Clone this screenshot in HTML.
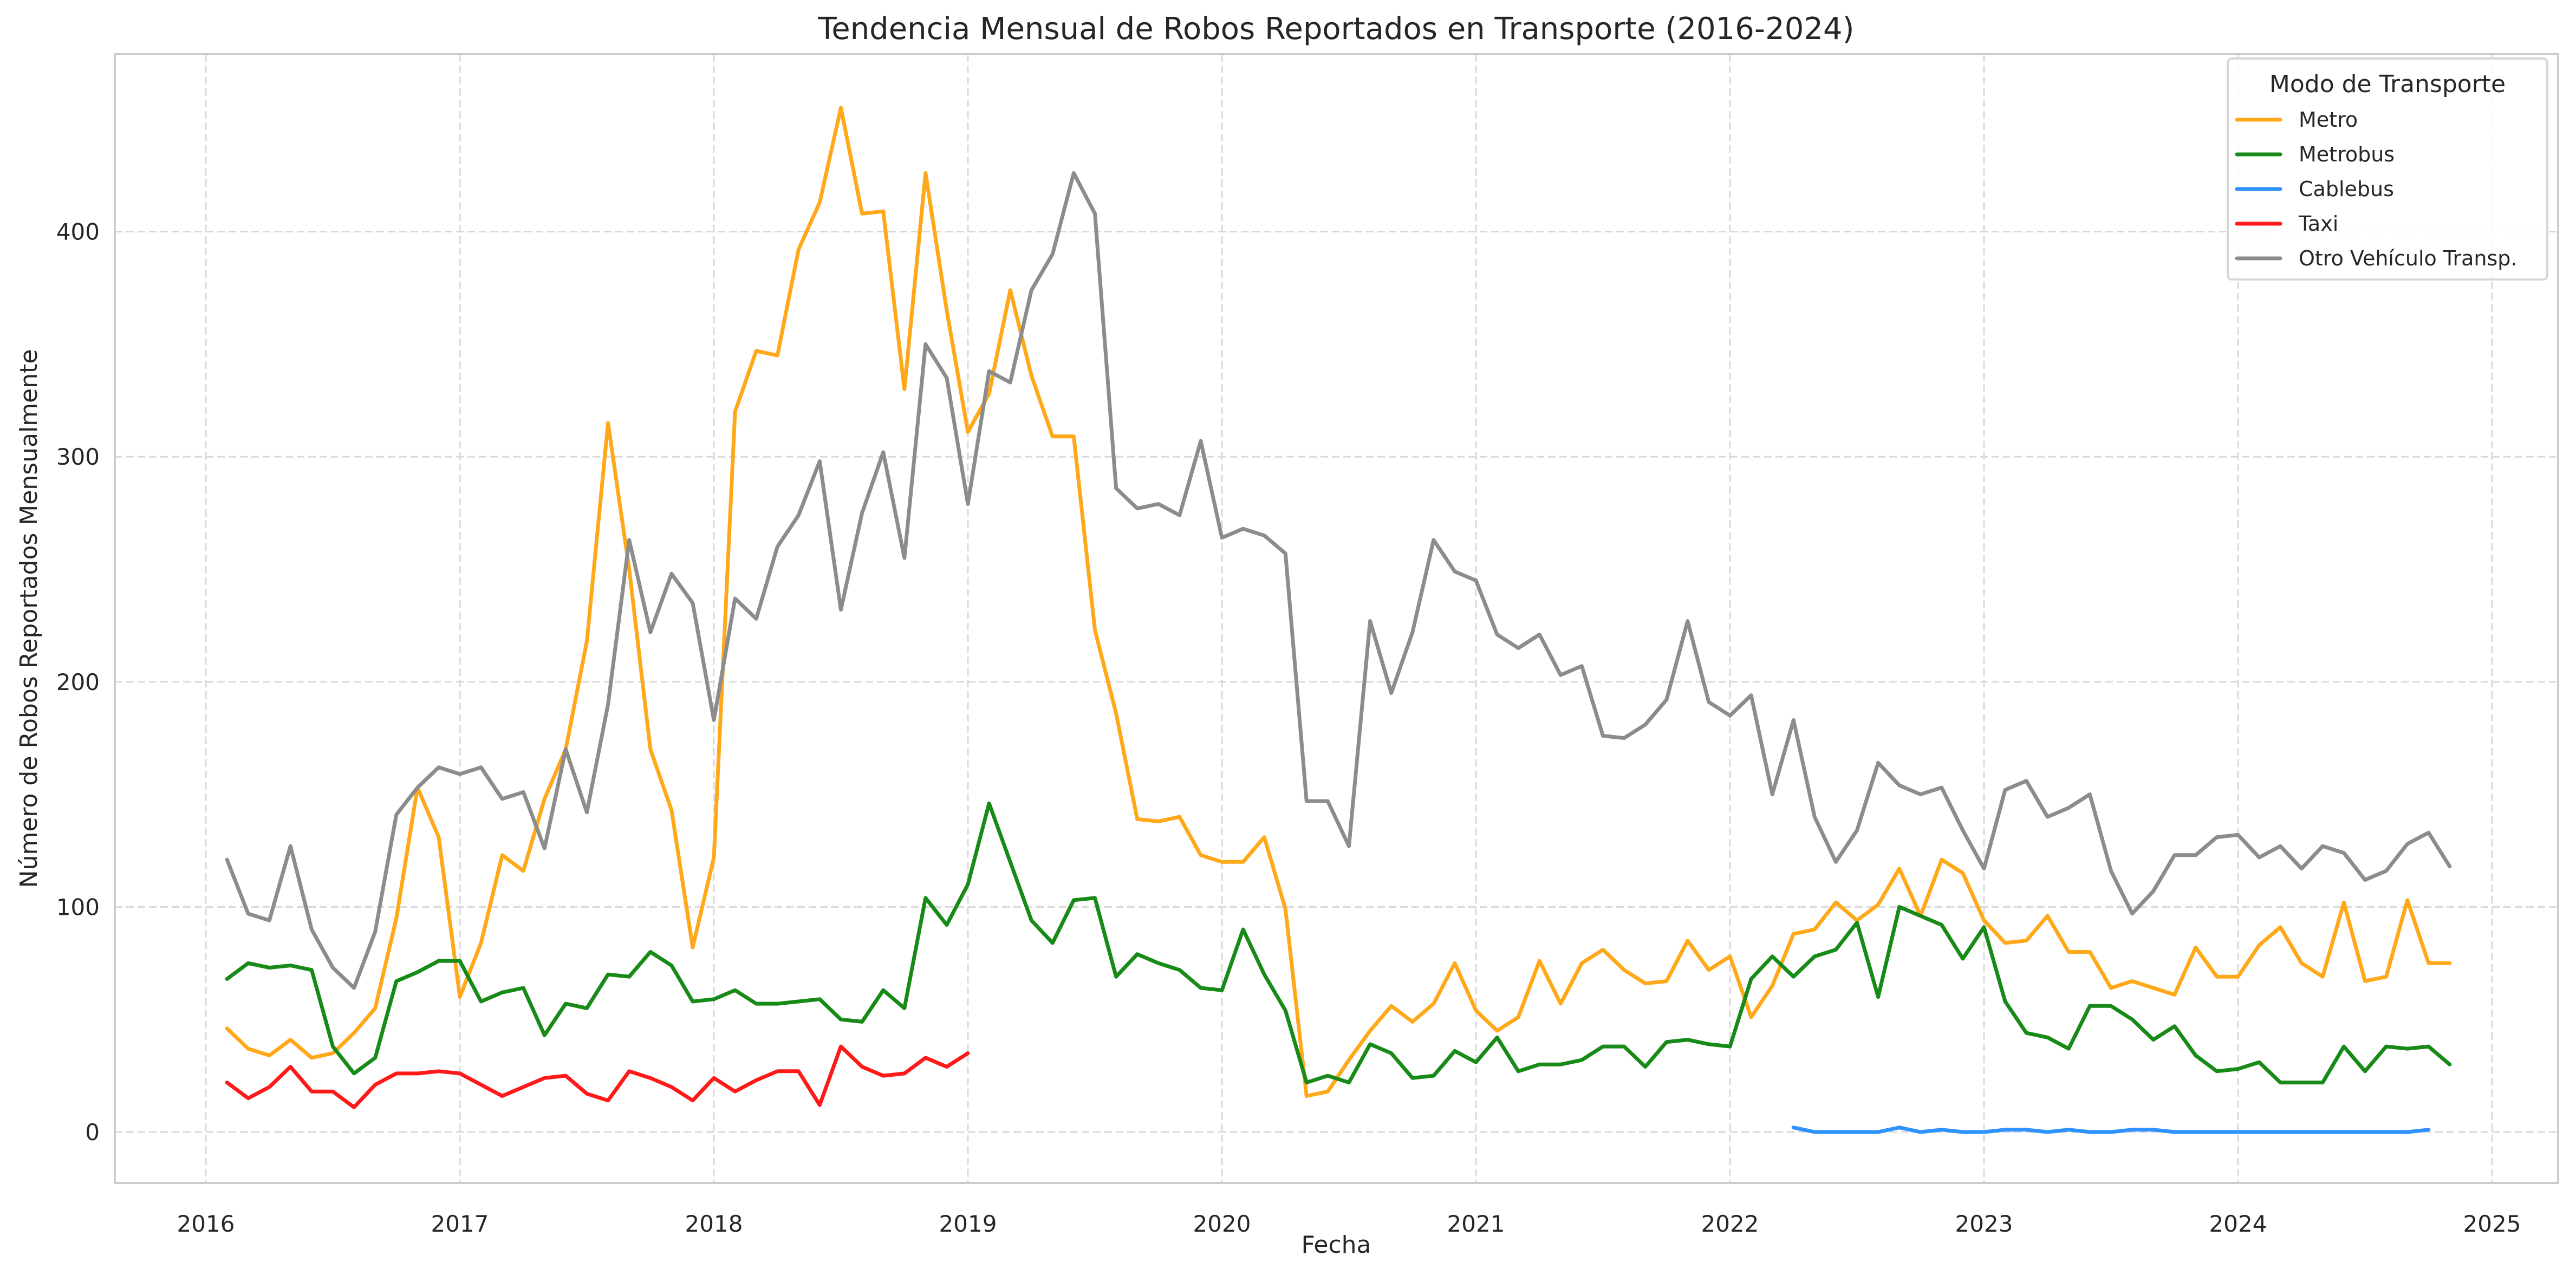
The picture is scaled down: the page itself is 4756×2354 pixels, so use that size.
<!DOCTYPE html>
<html><head><meta charset="utf-8"><style>
html,body{margin:0;padding:0;background:#fff;}
svg{display:block;font-family:"DejaVu Sans","Liberation Sans",sans-serif;}
</style></head><body>
<svg id="chart" width="4756" height="2354" viewBox="0 0 4756 2354" xmlns="http://www.w3.org/2000/svg">
<rect width="4756" height="2354" fill="#fff"/>
<g id="grid"></g>
<g id="series"></g>
<rect x="212" y="100" width="4511" height="2084" fill="none" stroke="#cccccc" stroke-width="4"/>
<g id="ticks"></g>
<text x="2467" y="72" text-anchor="middle" font-size="56" fill="#262626">Tendencia Mensual de Robos Reportados en Transporte (2016-2024)</text>
<text x="2467" y="2313" text-anchor="middle" font-size="44" fill="#262626">Fecha</text>
<text transform="translate(68,1142) rotate(-90)" text-anchor="middle" font-size="44" fill="#262626">Número de Robos Reportados Mensualmente</text>
<g id="legend">
<rect x="4113" y="108" width="590" height="408" rx="8" fill="#fff" fill-opacity="0.85" stroke="#d6d6d6" stroke-width="4"/>
<text x="4408" y="170" text-anchor="middle" font-size="44" fill="#262626">Modo de Transporte</text>
</g>
</svg>
<script>
const seriesNames = ["Metro","Metrobus","Cablebus","Taxi","Otro Vehículo Transp."];
const seriesColors = ["#ffa81a","#178a17","#2e93ff","#ff1a1a","#8c8c8c"];
const metroValues = [46,37,34,41,33,35,44,55,95,153,131,60, 84,123,116,148,170,218,315,250,170,143,82,122, 320,347,345,392,413,455,408,409,330,426,365,311, 328,374,336,309,309,223,186,139,138,140,123,120, 120,131,99,16,18,32,45,56,49,57,75,54, 45,51,76,57,75,81,72,66,67,85,72,78, 51,65,88,90,102,94,101,117,96,121,115,94, 84,85,96,80,80,64,67,64,61,82,69,69, 83,91,75,69,102,67,69,103,75,75];
const metrobusValues = [68,75,73,74,72,38,26,33,67,71,76,76, 58,62,64,43,57,55,70,69,80,74,58,59, 63,57,57,58,59,50,49,63,55,104,92,110, 146,120,94,84,103,104,69,79,75,72,64,63, 90,70,54,22,25,22,39,35,24,25,36,31, 42,27,30,30,32,38,38,29,40,41,39,38, 68,78,69,78,81,93,60,100,96,92,77,91, 58,44,42,37,56,56,50,41,47,34,27,28, 31,22,22,22,38,27,38,37,38,30];
const cablebusStart = 74;
const cablebusValues = [2,0,0,0,0,2,0,1,0,0,1,1,0,1,0,0,1,1,0,0,0,0,0,0,0,0,0,0,0,0,1];
const taxiValues = [22,15,20,29,18,18,11,21,26,26,27,26, 21,16,20,24,25,17,14,27,24,20,14,24, 18,23,27,27,12,38,29,25,26,33,29,35];
const otroValues = [121,97,94,127,90,73,64,89,141,153,162,159, 162,148,151,126,170,142,190,263,222,248,235,183, 237,228,260,274,298,232,275,302,255,350,335,279, 338,333,374,390,426,408,286,277,279,274,307,264, 268,265,257,147,147,127,227,195,222,263,249,245, 221,215,221,203,207,176,175,181,192,227,191,185, 194,150,183,140,120,134,164,154,150,153,134,117, 152,156,140,144,150,116,97,107,123,123,131,132, 122,127,117,127,124,112,116,128,133,118];
const xTickLabels = ["2016","2017","2018","2019","2020","2021","2022","2023","2024","2025"];
const yTickValues = [0,100,200,300,400];

const NS="http://www.w3.org/2000/svg";
function xYear(t){return 380+(t-2016)*469;}
function xMonth(i){return xYear(2016+(i+1)/12);}
function yScale(v){return 2090-v*4.156;}
function mk(tag,attrs,parent){const e=document.createElementNS(NS,tag);for(const k in attrs)e.setAttribute(k,attrs[k]);parent.appendChild(e);return e;}
const grid=document.getElementById('grid'),ticks=document.getElementById('ticks'),ser=document.getElementById('series'),leg=document.getElementById('legend');
xTickLabels.forEach(l=>{const x=xYear(+l);
 const g=mk('line',{x1:x,x2:x,y1:100,y2:2184,stroke:'#d9d9d9','stroke-width':3,'stroke-dasharray':'14,7'},grid);
 
 
 const t=mk('text',{x:x,y:2274,'text-anchor':'middle','font-size':42,fill:'#262626'},ticks);t.textContent=l;
 
 
});
yTickValues.forEach(v=>{const y=yScale(v);
 const g=mk('line',{x1:212,x2:4723,y1:y,y2:y,stroke:'#d9d9d9','stroke-width':3,'stroke-dasharray':'14,7'},grid);
 
 
 const t=mk('text',{x:184,y:y+15,'text-anchor':'end','font-size':42,fill:'#262626'},ticks);t.textContent=v;
 
 
});
const allSeries=[[metroValues,0],[metrobusValues,0],[cablebusValues,cablebusStart],[taxiValues,0],[otroValues,0]];
allSeries.forEach((s,k)=>{const pts=s[0].map((v,i)=>xMonth(i+s[1]).toFixed(1)+','+yScale(v).toFixed(1)).join(' ');
 const p=mk('polyline',{points:pts,fill:'none',stroke:seriesColors[k],'stroke-width':7,'stroke-linejoin':'round','stroke-linecap':'round'},ser);
 
 
 const y=221+k*64;
 const h=mk('line',{x1:4130,x2:4210,y1:y,y2:y,stroke:seriesColors[k],'stroke-width':7,'stroke-linecap':'round'},leg);
 
 
 const t=mk('text',{x:4244,y:y+13,'font-size':38,fill:'#262626'},leg);t.textContent=seriesNames[k];
 
 
});
</script>
</body></html>
